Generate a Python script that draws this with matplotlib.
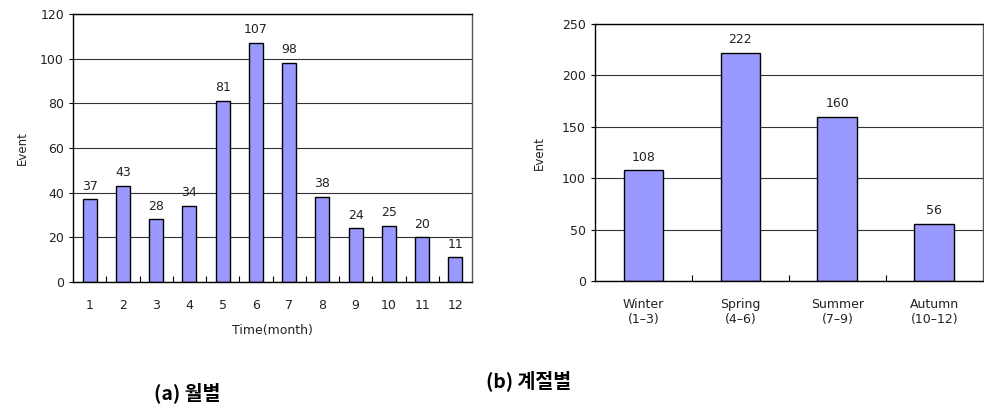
import matplotlib.pyplot as plt
import numpy as np

plt.rcParams['font.family'] = ['DejaVu Sans', 'Noto Sans CJK KR']

# monthly events
months = ['1', '2', '3', '4', '5', '6', '7', '8', '9', '10', '11', '12']
month_events = [37, 43, 28, 34, 81, 107, 98, 38, 24, 25, 20, 11]

# seasonal events
seasons = ['Winter\n(1–3)', 'Spring\n(4–6)', 'Summer\n(7–9)', 'Autumn\n(10–12)']
season_events = [108, 222, 160, 56]

bar_color = '#9999FF'
text_color = '#222222'

fig = plt.figure(figsize=(9.84, 4.08), dpi=100)
ax1 = fig.add_axes([0.0742, 0.309, 0.4055, 0.657])
ax2 = fig.add_axes([0.6047, 0.311, 0.394, 0.630])


def style_axes(ax, labels, values, ymax, ystep, width):
    x = np.arange(len(labels))
    ax.set_axisbelow(True)
    ax.bar(x, values, width=width, color=bar_color, edgecolor='black', linewidth=1.0)
    for xi, v in zip(x, values):
        ax.text(xi, v + ymax * 0.025, str(v), ha='center', va='bottom',
                fontsize=9, color=text_color)
    ax.set_xlim(-0.5, len(labels) - 0.5)
    ax.set_ylim(0, ymax)
    ax.set_yticks(np.arange(0, ymax + 1, ystep))
    ax.yaxis.grid(True, color='#333333', linewidth=0.8)
    ax.set_xticks(x)
    ax.set_xticklabels(labels)
    ax.set_xticks(np.arange(0.5, len(labels) - 0.5, 1), minor=True)
    ax.tick_params(axis='x', which='major', length=0, pad=12, labelsize=9, labelcolor=text_color)
    ax.tick_params(axis='x', which='minor', direction='in', length=4, width=0.8)
    ax.tick_params(axis='y', length=3, width=0.8, labelsize=9, labelcolor=text_color)
    for s in ax.spines.values():
        s.set_color('black')
        s.set_linewidth(1.0)
    ax.spines['right'].set_color('#555555')


style_axes(ax1, months, month_events, 120, 20, 0.42)
ax1.set_xlabel('Time(month)', fontsize=9, color=text_color, labelpad=9)
ax1.set_ylabel('Event', fontsize=8.5, color=text_color, labelpad=8)

style_axes(ax2, seasons, season_events, 250, 50, 0.41)
ax2.set_ylabel('Event', fontsize=8.5, color=text_color, labelpad=12)
for lab in ax2.get_xticklabels():
    lab.set_linespacing(1.25)

fig.text(0.1905, 0.038, '(a) 월별', ha='center', va='center', fontsize=14,
         fontweight='bold', color='black', family=['Noto Sans CJK KR'])
fig.text(0.5375, 0.068, '(b) 계절별', ha='center', va='center', fontsize=14,
         fontweight='bold', color='black', family=['Noto Sans CJK KR'])

fig.savefig('out.png', dpi=100)
